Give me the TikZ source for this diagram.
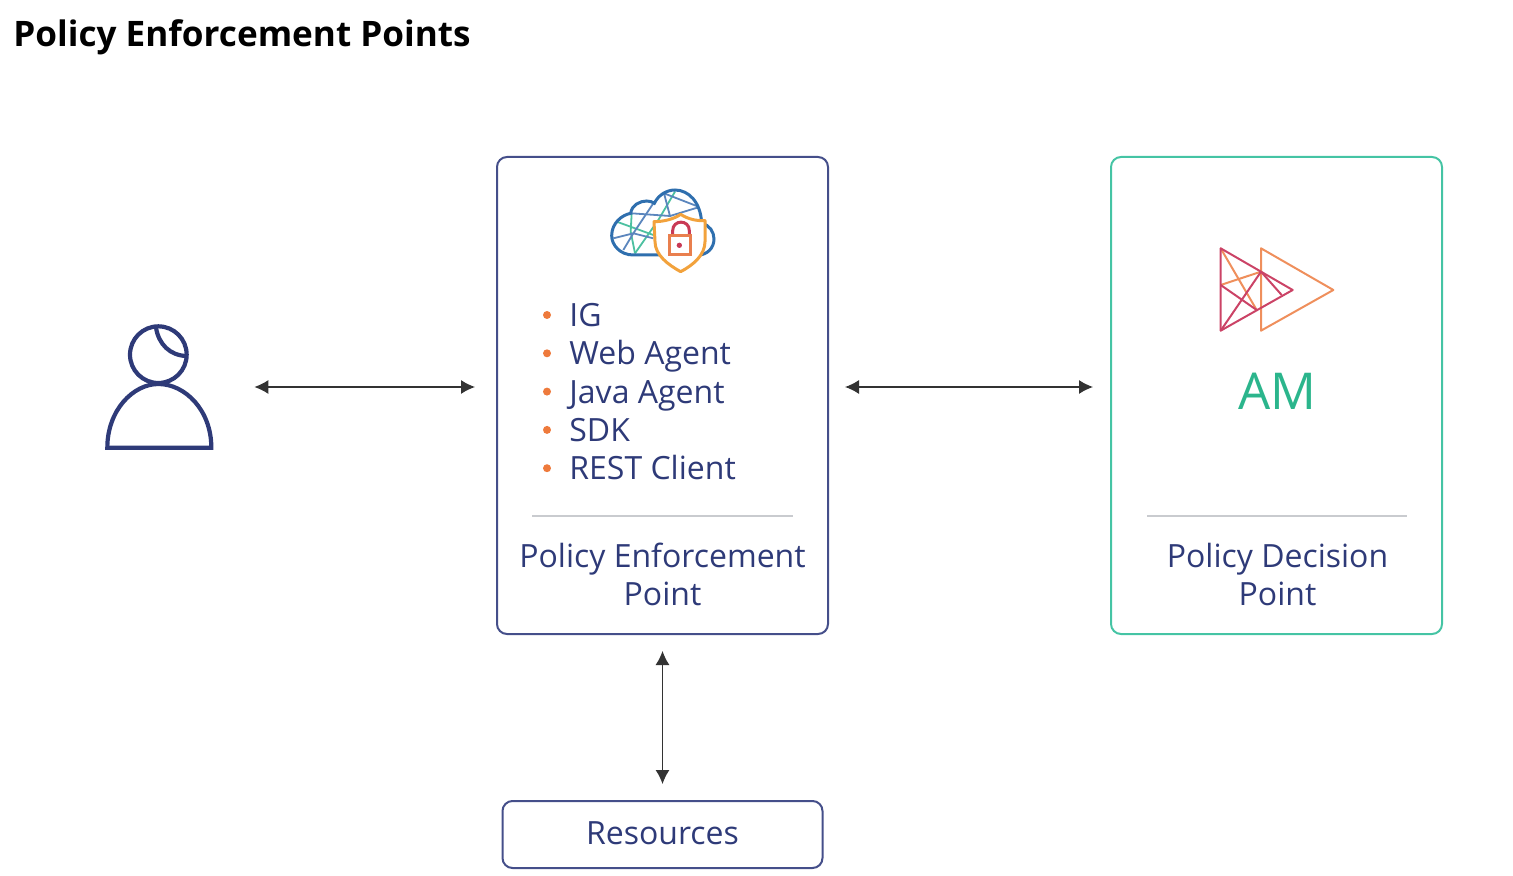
\documentclass[tikz,border=0pt]{standalone}
\usepackage{fontspec}
\setmainfont{Open Sans}
\usetikzlibrary{arrows.meta}
\definecolor{navy}{HTML}{2E3A78}
\definecolor{edgeblue}{HTML}{454F8A}
\definecolor{teal}{HTML}{45C4A4}
\definecolor{amgreen}{HTML}{2BB58C}
\definecolor{rule}{HTML}{C9CBCF}
\definecolor{dotorange}{HTML}{EE7A3C}
\definecolor{cloudblue}{HTML}{2F6FAE}
\definecolor{meshblue}{HTML}{5B86BD}
\definecolor{meshgreen}{HTML}{4CC0A0}
\definecolor{shieldorange}{HTML}{F2A23C}
\definecolor{lockorange}{HTML}{E97F4E}
\definecolor{lockred}{HTML}{C93A55}
\definecolor{logored}{HTML}{CB4366}
\definecolor{logoorange}{HTML}{EF8F5C}

\begin{document}
\begin{tikzpicture}[x=0.5pt,y=-0.5pt]
  \useasboundingbox (0,0) rectangle (1513,876);
  \tikzstyle{box}=[rectangle,draw=edgeblue,line width=1pt,rounded corners=5pt,inner sep=0pt]
  \tikzstyle{txt}=[inner sep=0pt,anchor=base,text=navy,font=\fontsize{16}{20}\selectfont]
  \tikzstyle{both}=[{Latex[length=7pt,width=7pt]}-{Latex[length=7pt,width=7pt]},line width=0.6pt,draw=black!80]

  \node[anchor=base west,inner sep=0pt,font=\fontsize{17.55}{22}\selectfont\bfseries] (title) at (13,47) {Policy Enforcement Points};

%% boxes
  \node[box,minimum width=165.5pt,minimum height=238.5pt] (pep) at (662.5,395.5) {};
  \node[box,draw=teal,minimum width=165.5pt,minimum height=238.5pt] (pdp) at (1276.5,395.5) {};
  \node[box,minimum width=160pt,minimum height=33.5pt] (res) at (662.5,834.5) {};
  \node[inner sep=0pt,minimum width=54.5pt,minimum height=63pt] (user) at (159.5,387) {};

%% texts
  \node[txt] (res-txt) at (662.5,844) {Resources};
  \node[txt] (pep-txt1) at (662.5,567) {Policy Enforcement};
  \node[txt] (pep-txt2) at (662.5,605) {Point};
  \node[txt] (pdp-txt1) at (1277.5,567) {Policy Decision};
  \node[txt] (pdp-txt2) at (1277.5,605) {Point};
  \node[txt,text=amgreen,font=\fontsize{25.4}{30}\selectfont] (am) at (1277,409) {AM};
  \foreach \n/\lbl in {0/IG, 1/Web Agent, 2/Java Agent, 3/SDK, 4/REST Client} {
    \node[circle,fill=dotorange,inner sep=0pt,minimum size=4pt] (dot\n) at (547,315+38.3*\n) {};
    \node[txt,anchor=base west] (item\n) at (569,326.6+38.3*\n) {\lbl};
  }

%% separators
  \draw[rule,line width=0.6pt] (532,516) -- (793,516);
  \draw[rule,line width=0.6pt] (1147,516) -- (1407,516);

%% connections
  \draw[both,shorten <=20pt,shorten >=10.5pt] (user.east) -- (pep.west |- user.east);
  \draw[both,shorten <=8pt,shorten >=8.5pt] (pep.east |- user.east) -- (pdp.west |- user.east);
  \draw[both,shorten <=8pt,shorten >=8pt] (pep.south) -- (res.north);

%% user icon
  \begin{scope}[shift={(90,310)},scale=1/3,draw=navy,line width=2.1pt]
    \draw (205,134) circle (85);
    \draw (198,52) .. controls (205,102) and (240,137) .. (290,138);
    \draw[line join=miter] (52,413) .. controls (52,300) and (130,222) .. (205,222)
      .. controls (285,222) and (364,300) .. (364,413) -- cycle;
  \end{scope}

%% cloud and shield icon
  \begin{scope}[shift={(590,170)},scale=1/3]
    \tikzstyle{mesh}=[line width=0.9pt]
    \draw[mesh,meshgreen] (125,130) -- (122,185) -- (135,250);
    \draw[mesh,meshgreen] (80,155) -- (190,195);
    \draw[mesh,meshgreen] (255,65) -- (205,150) -- (135,250);
    \draw[mesh,meshblue] (125,130) -- (240,138) -- (222,70) -- (325,110);
    \draw[mesh,meshblue] (70,205) -- (130,190) -- (100,240);
    \draw[mesh,meshblue] (190,100) -- (130,190) -- (190,205);
    \draw[mesh,meshblue] (240,138) -- (325,112);
    \draw[cloudblue,line width=1.5pt] (130,255) .. controls (90,255) and (65,225) .. (65,197)
      .. controls (65,160) and (95,135) .. (122,130)
      .. controls (125,105) and (150,93) .. (170,93)
      .. controls (180,93) and (188,96) .. (193,100)
      .. controls (205,75) and (230,60) .. (255,60)
      .. controls (295,60) and (332,95) .. (335,160)
      .. controls (358,165) and (372,185) .. (372,207)
      .. controls (372,235) and (350,255) .. (325,255) -- cycle;
    \draw[shieldorange,fill=white,line width=1.5pt,line join=round] (192,155)
      .. controls (220,155) and (250,148) .. (272,133)
      .. controls (295,148) and (320,153) .. (345,152)
      -- (345,215) .. controls (345,255) and (310,285) .. (272,305)
      .. controls (235,285) and (195,255) .. (195,215) -- cycle;
    \draw[lockred,line width=1.5pt] (248,197) -- (248,182) .. controls (248,148) and (298,148) .. (298,182) -- (298,197);
    \draw[lockorange,line width=1.5pt] (237,197) rectangle (302,255);
    \fill[lockred] (268,226) circle (8);
  \end{scope}

%% AM logo
  \begin{scope}[shift={(1200,230)},scale=1/3,line width=1pt,line join=round]
    \draw[logoorange] (62,55) -- (170,240);
    \draw[logoorange] (62,165) -- (183,125);
    \draw[logoorange] (183,55) -- (400,180) -- (183,302) -- cycle;
    \draw[logored] (62,55) -- (278,180) -- (62,302) -- cycle;
    \draw[logored] (62,165) -- (170,240);
    \draw[logored] (183,125) -- (62,302);
    \draw[logored] (183,125) -- (245,195);
  \end{scope}
\end{tikzpicture}
\end{document}
